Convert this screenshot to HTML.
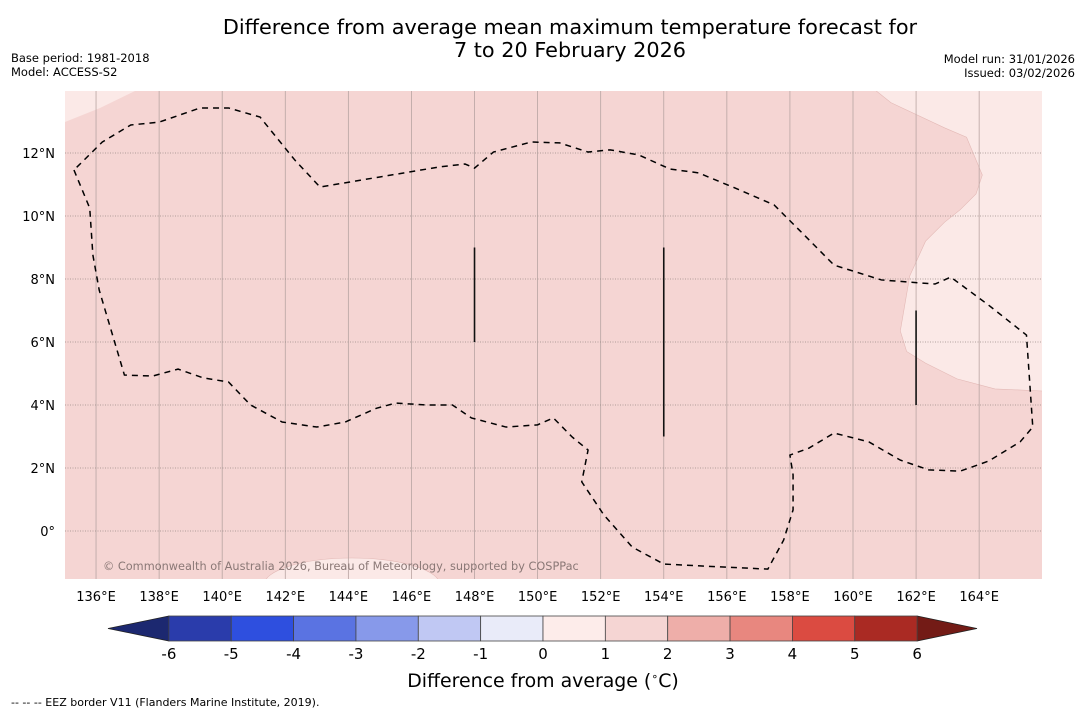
<!DOCTYPE html>
<html><head><meta charset="utf-8"><style>
body{margin:0;background:#fff;width:1085px;height:713px;overflow:hidden;font-family:"DejaVu Sans","Liberation Sans",sans-serif}
svg{position:absolute;left:0;top:0}
</style></head><body>
<svg id="s" width="1085" height="713" font-family="DejaVu Sans, Liberation Sans, sans-serif">
<text x="570" y="34" font-size="20.8" text-anchor="middle">Difference from average mean maximum temperature forecast for</text>
<text x="570" y="57" font-size="20.8" text-anchor="middle">7 to 20 February 2026</text>
<text x="11" y="62" font-size="11.5">Base period: 1981-2018</text>
<text x="11" y="76" font-size="11.5">Model: ACCESS-S2</text>
<text x="1075" y="63" font-size="11.5" text-anchor="end">Model run: 31/01/2026</text>
<text x="1075" y="77" font-size="11.5" text-anchor="end">Issued: 03/02/2026</text>
<defs><clipPath id="mc"><rect x="65" y="91" width="977" height="488"/></clipPath></defs>
<g id="map" clip-path="url(#mc)"></g>
<g id="axes"></g>
<g id="cbar"></g>
<text x="543" y="687" font-size="18.9" text-anchor="middle">Difference from average (<tspan font-size="11" dy="-7">∘</tspan><tspan dy="7">C)</tspan></text>
<text x="11" y="706" font-size="11">--  --  -- EEZ border V11 (Flanders Marine Institute, 2019).</text>
</svg>
<script>
const NS="http://www.w3.org/2000/svg";
const lonTicks=[136,138,140,142,144,146,148,150,152,154,156,158,160,162,164];
const latTicks=[0,2,4,6,8,10,12];
const eezLon=[135.3,135.8,135.9,136.1,136.9,137.8,138.6,139.4,140.2,140.9,141.9,143.0,143.9,144.9,145.5,146.5,147.3,147.9,149.0,150.0,150.5,151.1,151.6,151.4,152.1,153.0,154.0,155.8,157.3,157.8,158.1,158.1,158.0,158.6,159.4,160.5,161.5,162.4,163.4,164.3,165.3,165.7,165.5,164.3,163.1,162.6,160.9,159.4,158.3,157.5,156.4,155.1,154.2,153.2,152.3,151.6,150.7,149.8,148.6,148.0,147.7,146.9,143.1,142.3,141.2,140.2,139.3,138.0,137.1,136.2,135.3];
const eezLat=[11.46,10.25,8.76,7.65,4.95,4.92,5.14,4.86,4.73,4.0,3.46,3.30,3.46,3.90,4.06,4.0,4.0,3.59,3.30,3.37,3.59,2.98,2.57,1.56,0.51,-0.51,-1.05,-1.14,-1.21,-0.29,0.67,1.78,2.41,2.63,3.11,2.83,2.25,1.94,1.90,2.22,2.83,3.30,6.22,7.17,8.06,7.84,7.97,8.44,9.55,10.35,10.83,11.37,11.49,11.94,12.10,12.03,12.32,12.35,12.03,11.52,11.65,11.56,10.92,11.78,13.14,13.43,13.43,12.98,12.89,12.35,11.46];
const warmLon=[160.7,161.2,162.9,163.6,164.1,163.9,163.4,162.9,162.3,161.8,161.5,161.7,162.3,163.3,164.5,166.1,166.1];
const warmLat=[14.0,13.6,12.8,12.5,11.3,10.7,10.2,9.8,9.2,8.1,6.35,5.7,5.33,4.83,4.51,4.44,14.0];
const x=l=>64.5+(l-135)*31.54, y=t=>531-t*31.5;
function el(t,a,p){const e=document.createElementNS(NS,t);for(const k in a)e.setAttribute(k,a[k]);(p||document.getElementById('s')).appendChild(e);return e;}
const map=document.getElementById('map'), ax=document.getElementById('axes');
let r=el('rect',{x:65,y:91,width:977,height:488,fill:'#f5d5d3'},map);


let p=el('polygon',{points:'65,91 135,91 100,108 65,122',fill:'#fbe9e7'},map);


p=el('polygon',{points:warmLon.map((l,i)=>x(l)+','+y(warmLat[i])).join(' '),fill:'#fbe9e7',stroke:'#e3b9b6','stroke-width':0.6},map);


p=el('ellipse',{cx:352,cy:585,rx:88,ry:27,fill:'#fbe9e7',stroke:'#e3b9b6','stroke-width':0.6},map);


lonTicks.forEach(l=>{let g=el('line',{x1:x(l),x2:x(l),y1:91,y2:579,stroke:'#b8a4a2','stroke-width':0.8},map);


let t=el('text',{x:x(l),y:601,'font-size':13,'text-anchor':'middle'},ax);t.textContent=l+'°E';

});
latTicks.forEach(t0=>{let g=el('line',{x1:65,x2:1042,y1:y(t0),y2:y(t0),stroke:'#9a8a88','stroke-width':0.8,'stroke-dasharray':'1,1.5'},map);


let t=el('text',{x:55,y:y(t0)+5,'font-size':13,'text-anchor':'end'},ax);t.textContent=t0===0?'0°':t0+'°N';

});
p=el('polyline',{points:eezLon.map((l,i)=>x(l)+','+y(eezLat[i])).join(' '),fill:'none',stroke:'#000','stroke-width':1.5,'stroke-dasharray':'6,5'},map);


[[148,6,9],[154,3,9],[162,4,7]].forEach(v=>{let q=el('line',{x1:x(v[0]),x2:x(v[0]),y1:y(v[2]),y2:y(v[1]),stroke:'#111','stroke-width':1.6},map);

});
let c=el('text',{x:103,y:570,'font-size':11.3,fill:'#8a7876'},map);c.textContent='© Commonwealth of Australia 2026, Bureau of Meteorology, supported by COSPPac';


const cbTicks=[-6,-5,-4,-3,-2,-1,0,1,2,3,4,5,6];
const cbColors=['#2a3cab','#2e4fdf','#5a73e2','#8799ea','#c0c8f3','#e9ebf9','#fdecea','#f5d5d3','#eeaea9','#e8877f','#db4b41','#aa2a23'];
const cb=document.getElementById('cbar'), cx=v=>543+v*62.35, cy0=616, ch=25;
let a=el('polygon',{points:`${cx(-6)},${cy0} 108,${cy0+ch/2} ${cx(-6)},${cy0+ch}`,fill:'#1c2870',stroke:'#222','stroke-width':0.8},cb);


a=el('polygon',{points:`${cx(6)},${cy0} 977,${cy0+ch/2} ${cx(6)},${cy0+ch}`,fill:'#731b16',stroke:'#222','stroke-width':0.8},cb);


cbColors.forEach((col,i)=>{let b=el('rect',{x:cx(cbTicks[i]),y:cy0,width:cx(cbTicks[i+1])-cx(cbTicks[i]),height:ch,fill:col,stroke:'#444','stroke-width':0.8},cb);

});
cbTicks.forEach(v=>{let t=el('text',{x:cx(v),y:659,'font-size':15,'text-anchor':'middle'},cb);t.textContent=v;

});
</script>
</body></html>
